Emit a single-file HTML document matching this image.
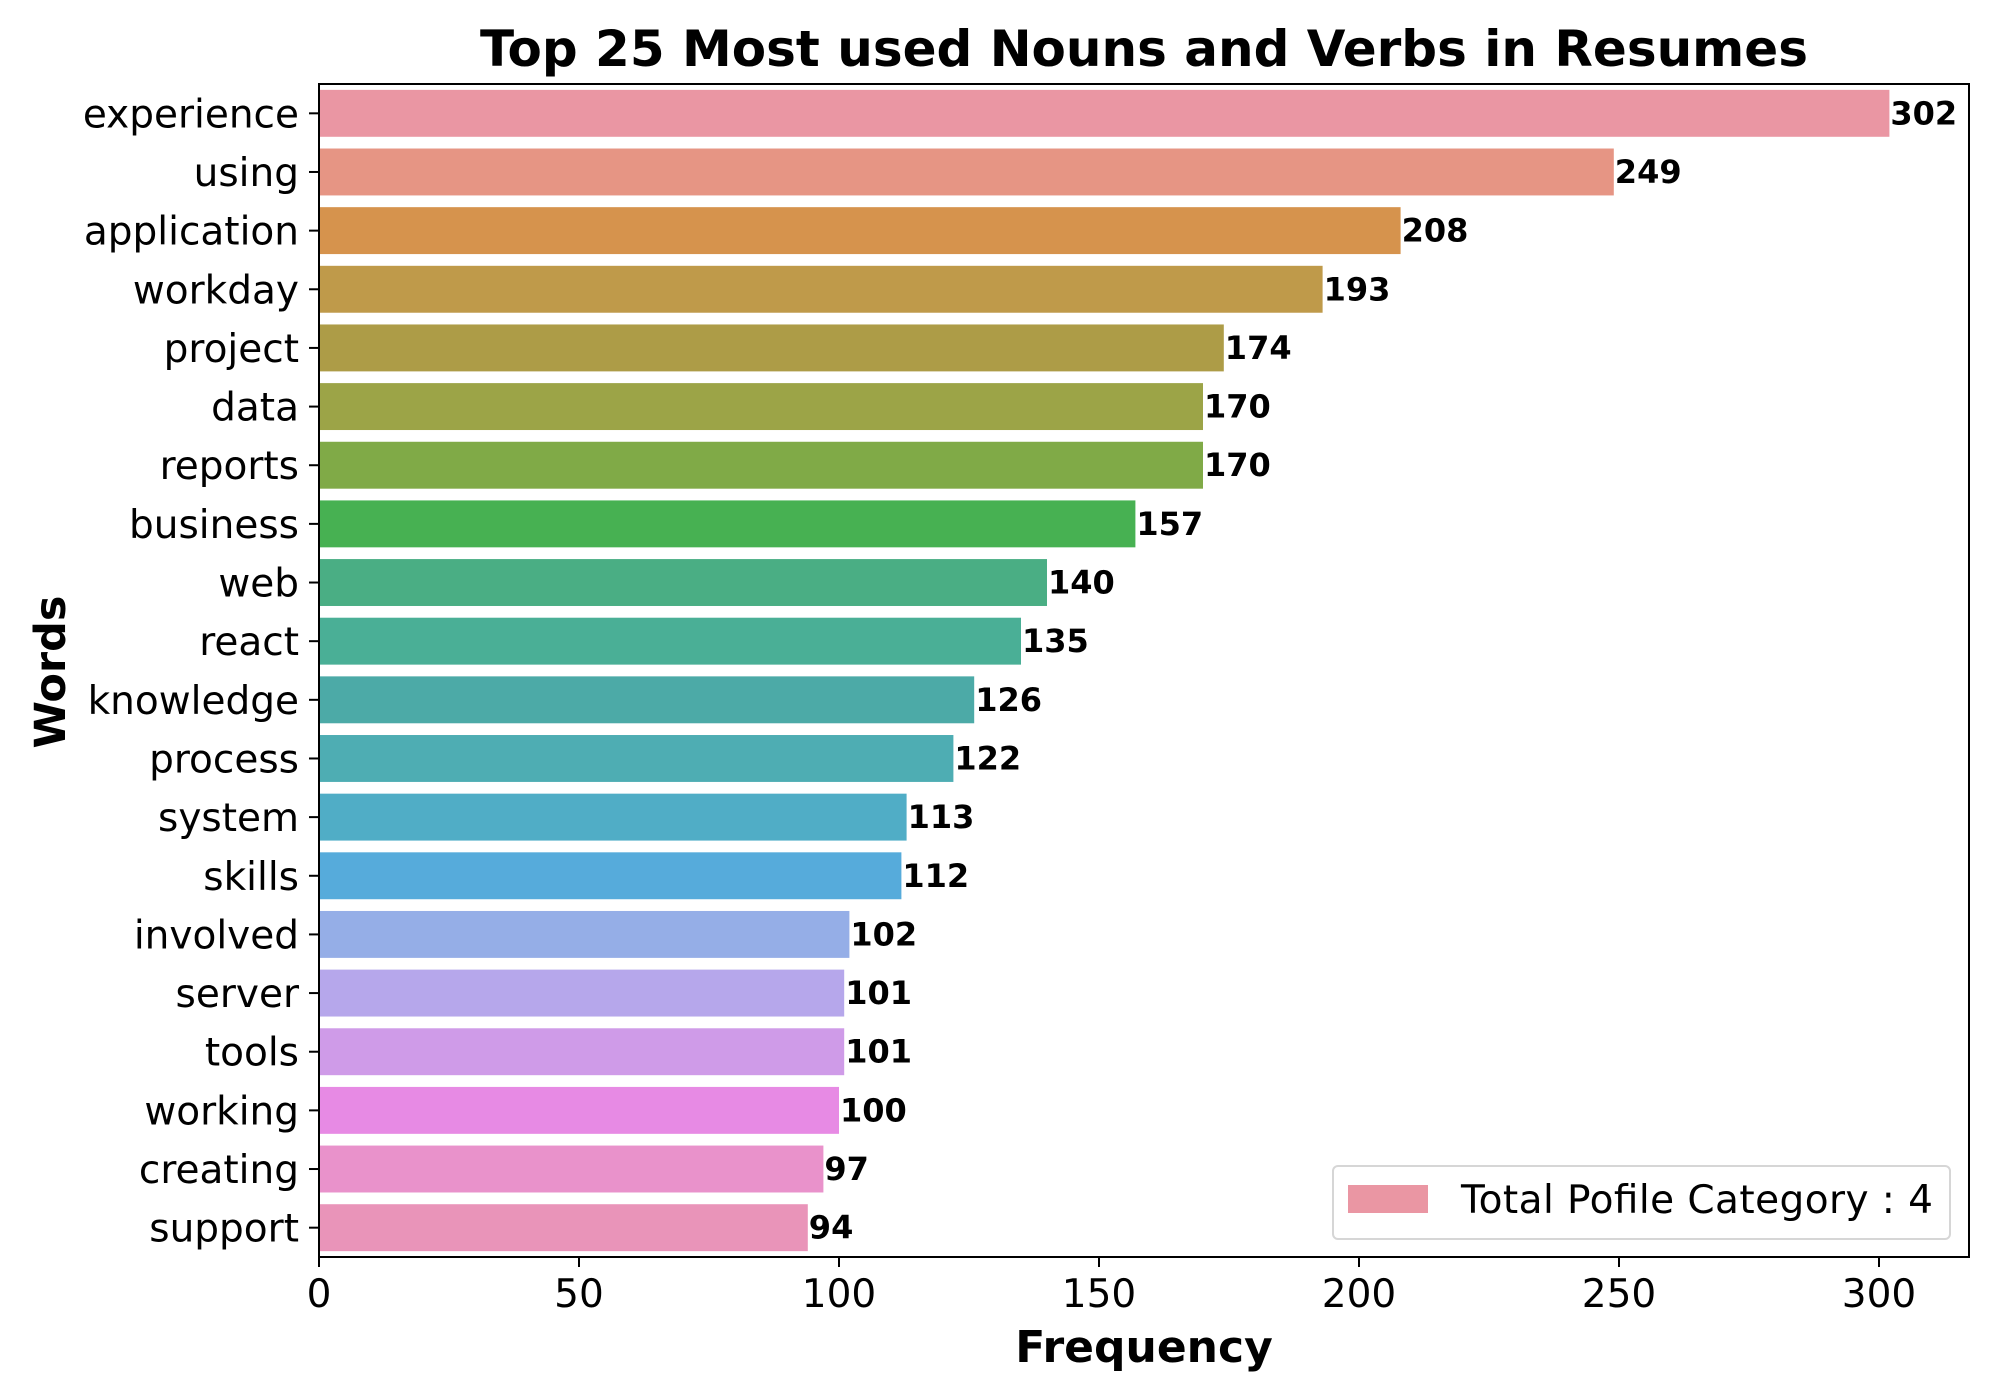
<!DOCTYPE html>
<html><head><meta charset="utf-8"><style>
html,body{margin:0;padding:0;background:#fff;}
svg{display:block;font-family:"DejaVu Sans","Liberation Sans",sans-serif;}
</style></head><body>
<svg id="chart" width="2000" height="1400" viewBox="0 0 2000 1400">
<text x="1144" y="66" text-anchor="middle" font-size="50" font-weight="bold">Top 25 Most used Nouns and Verbs in Resumes</text>
<g id="bars"></g>
<g id="yticks"></g>
<g id="xticks"></g>
<rect x="319" y="84" width="1650" height="1173" fill="none" stroke="#000" stroke-width="2"/>
<text x="1144" y="1362" text-anchor="middle" font-size="44" font-weight="bold">Frequency</text>
<text transform="translate(65,672) rotate(-90)" text-anchor="middle" font-size="43" font-weight="bold">Words</text>
<g>
<rect x="1333" y="1166" width="617" height="73" rx="5" fill="#fff" stroke="#d6d6d6" stroke-width="2"/>
<rect x="1348" y="1185" width="80" height="28" fill="#ea96a3"/>
<text x="1461" y="1213" font-size="39" textLength="472">Total Pofile Category : 4</text>
</g>
</svg>
<script>
const categories = ["experience","using","application","workday","project","data","reports","business","web","react","knowledge","process","system","skills","involved","server","tools","working","creating","support"];
const values = [302,249,208,193,174,170,170,157,140,135,126,122,113,112,102,101,101,100,97,94];
const colors = ["#ea96a3","#e69584","#d6934d","#bf9a4a","#ad9c47","#9ca447","#80aa47","#47b152","#4aae84","#4aaf96","#4caaa7","#4eadb3","#50adc6","#56abdb","#95aee7","#b6a7eb","#cf9be8","#e78ae4","#e992cb","#e994b9"];
const xTicks = [0,50,100,150,200,250,300];

const NS = "http://www.w3.org/2000/svg";
const X0 = 319, X1 = 1969, Y0 = 84, Y1 = 1257;
const XMAX = (X1 - X0) / 5.2;
function xs(v){ return X0 + v / XMAX * (X1 - X0); }
const band = (Y1 - Y0) / categories.length;
function yc(i){ return Y0 + band * (i + 0.5); }
function mk(tag, attrs, parent){ const e = document.createElementNS(NS, tag); for (const k in attrs) e.setAttribute(k, attrs[k]); parent.appendChild(e); return e; }

const gb = document.getElementById('bars');
const gy = document.getElementById('yticks');
const gx = document.getElementById('xticks');
categories.forEach((c, i) => {
  const h = band * 0.8;
  const r = mk('rect', {x: X0, y: yc(i) - h/2, width: xs(values[i]) - X0, height: h, fill: colors[i]}, gb);
  
  
  const t = mk('text', {x: xs(values[i]) + 1, y: yc(i) + 11, 'font-size': 32, 'font-weight': 'bold'}, gb);
  t.textContent = values[i];
  
  
  const tk = mk('line', {x1: X0 - 10, x2: X0, y1: yc(i), y2: yc(i), stroke: '#000', 'stroke-width': 2}, gy);
  
  
  const l = mk('text', {x: 299, y: yc(i) + 14, 'font-size': 39, 'text-anchor': 'end'}, gy);
  l.textContent = c;
  
  
});
xTicks.forEach(v => {
  const tk = mk('line', {x1: xs(v), x2: xs(v), y1: Y1, y2: Y1 + 10, stroke: '#000', 'stroke-width': 2}, gx);
  
  
  const l = mk('text', {x: xs(v), y: 1307, 'font-size': 39, 'text-anchor': 'middle'}, gx);
  l.textContent = v;
  
  
});
</script>
</body></html>
